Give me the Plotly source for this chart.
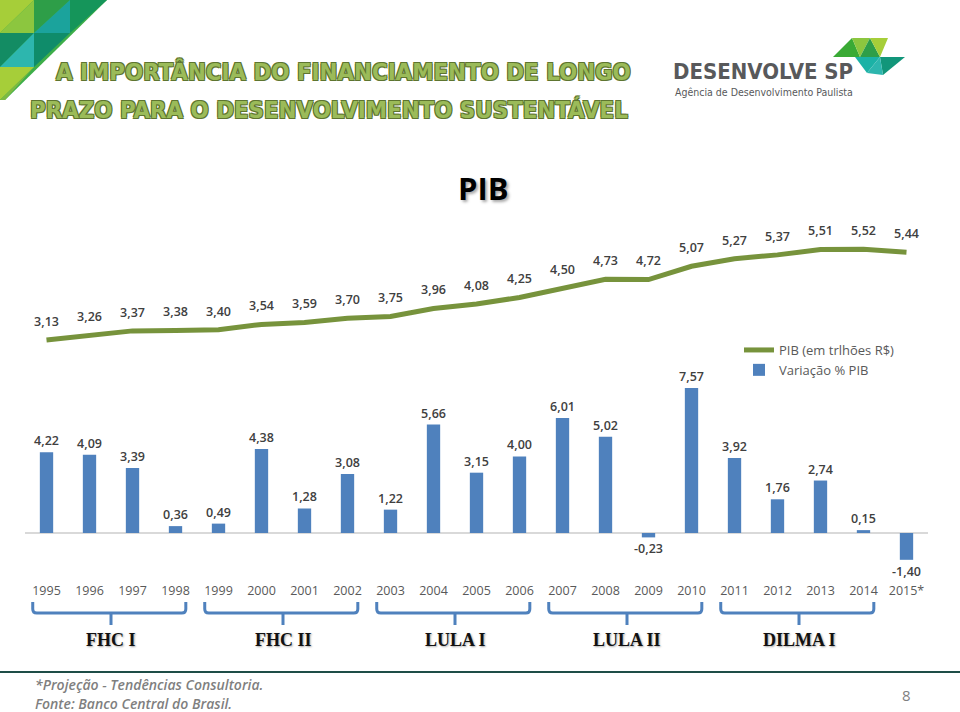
import plotly.graph_objects as go

# ---------------- data ----------------
years = ["1995", "1996", "1997", "1998", "1999", "2000", "2001", "2002", "2003", "2004",
         "2005", "2006", "2007", "2008", "2009", "2010", "2011", "2012", "2013", "2014", "2015*"]
pib_trilhoes = [3.13, 3.26, 3.37, 3.38, 3.40, 3.54, 3.59, 3.70, 3.75, 3.96,
                4.08, 4.25, 4.50, 4.73, 4.72, 5.07, 5.27, 5.37, 5.51, 5.52, 5.44]
variacao_pib = [4.22, 4.09, 3.39, 0.36, 0.49, 4.38, 1.28, 3.08, 1.22, 5.66,
                3.15, 4.00, 6.01, 5.02, -0.23, 7.57, 3.92, 1.76, 2.74, 0.15, -1.40]
periodos = ["FHC I", "FHC II", "LULA I", "LULA II", "DILMA I"]
periodo_inicio = ["1995", "1999", "2003", "2007", "2011"]
periodo_fim = ["1998", "2002", "2006", "2010", "2014"]

# ---------------- geometry helpers ----------------
W, H = 960, 712
PL, PR, PT, PB = 25, 928, 140, 578
n = len(years)


def px(x):
    return (x - PL) / (PR - PL)


def py(y):
    return (PB - y) / (PB - PT)


def cat_paper(i):
    return (i + 0.5) / n


GREEN_LINE = "#77933C"
BLUE = "#4F81BD"
LABEL_FONT = dict(family="Open Sans, sans-serif", size=12.5, color="#404040", weight=600)

fig = go.Figure()

fig.add_trace(go.Bar(
    x=years, y=variacao_pib, name="Variação % PIB",
    marker=dict(color=BLUE, line=dict(width=0)), width=0.31,
    texttemplate="%{y:.2f}", textposition="outside", textfont=LABEL_FONT,
    constraintext="none", cliponaxis=False, yaxis="y",
))
fig.add_trace(go.Scatter(
    x=years, y=pib_trilhoes, name="PIB (em trlhões R$)", yaxis="y2",
    mode="lines+markers+text",
    line=dict(color=GREEN_LINE, width=5),
    marker=dict(size=16, color="rgba(0,0,0,0)"),
    texttemplate="%{y:.2f}", textposition="top center", textfont=LABEL_FONT,
    cliponaxis=False,
))

shapes = []
annotations = []

# Brackets and period labels
for name, a, b in zip(periodos, periodo_inicio, periodo_fim):
    ia, ib = years.index(a), years.index(b)
    xl = cat_paper(ia - 0.32)
    xr = cat_paper(ib + 0.24)
    xm = (cat_paper(ia) + cat_paper(ib)) / 2
    yt, yh, yn = py(602), py(613), py(625)
    r = 4 / (PB - PT)
    rx = 4 / (PR - PL)
    path = (f"M {xl},{yt} L {xl},{yh + r} Q {xl},{yh} {xl + rx},{yh} "
            f"L {xr - rx},{yh} Q {xr},{yh} {xr},{yh + r} L {xr},{yt} "
            f"M {xm},{yh} L {xm},{yn}")
    shapes.append(dict(type="path", xref="paper", yref="paper", path=path,
                       line=dict(color=BLUE, width=3)))
    annotations.append(dict(xref="paper", yref="paper", x=xm, y=py(640), text=name,
                            showarrow=False, xanchor="center", yanchor="middle",
                            font=dict(family="Liberation Serif, DejaVu Serif, serif", size=18,
                                      color="#111111", weight=700,
                                      shadow="1px 1px 2px rgba(0,0,0,0.35)")))

# Footer line
shapes.append(dict(type="line", xref="paper", yref="paper", x0=px(0), x1=px(960),
                   y0=py(672), y1=py(672), line=dict(color="#1E4D47", width=2)))


def poly(points, color):
    d = "M " + " L ".join(f"{px(x)},{py(y)}" for x, y in points) + " Z"
    return dict(type="path", xref="paper", yref="paper", path=d,
                fillcolor=color, line=dict(width=0), layer="above")


# Top-left decorative triangles
shapes += [
    poly([(0, 0), (107, 0), (5, 100), (0, 100)], "#3DAE49"),
    poly([(0, 0), (34, 0), (0, 33)], "#A6CE39"),
    poly([(0, 33), (34, 0), (34, 33)], "#8CC63F"),
    poly([(34, 0), (70, 0), (34, 33)], "#2E9E48"),
    poly([(34, 33), (70, 0), (70, 33)], "#1BA39C"),
    poly([(70, 0), (107, 0), (70, 33)], "#15955A"),
    poly([(0, 33), (34, 33), (0, 67)], "#138C63"),
    poly([(0, 67), (34, 33), (34, 67)], "#2DB6AE"),
    poly([(34, 33), (70, 33), (34, 67)], "#0F8C6A"),
    poly([(0, 67), (34, 67), (0, 100)], "#A6CE39"),
    poly([(0, 100), (34, 67), (5, 100)], "#7DBA42"),
]

# Logo triangles (top right)
shapes += [
    poly([(833, 57), (852, 38), (860, 57)], "#3AAA35"),
    poly([(852, 38), (870, 38), (860, 57)], "#8CC63F"),
    poly([(870, 38), (860, 57), (880, 57)], "#2E9E48"),
    poly([(870, 38), (888, 38), (880, 57)], "#A6CE39"),
    poly([(855, 57), (880, 57), (867, 73)], "#1BB2A6"),
    poly([(880, 57), (905, 57), (883, 75)], "#12967A"),
    poly([(867, 73), (880, 57), (883, 75)], "#2DB6AE"),
]

# Header texts
header_font = dict(family="DejaVu Sans Condensed, DejaVu Sans, sans-serif", size=23.8,
                   color="#9BBB59", weight=700,
                   shadow="-1px -1px 0 #5E7530, 1px -1px 0 #5E7530, -1px 1px 0 #5E7530, 1px 1px 0 #5E7530")
cond_font = "DejaVu Sans Condensed, DejaVu Sans, sans-serif"
footer_font = dict(family="Open Sans, sans-serif", size=14, color="#7F7F7F", style="italic",
                   weight=600)
annotations += [
    dict(xref="paper", yref="paper", x=px(54), y=py(72), xanchor="left", yanchor="middle",
         text="A IMPORTÂNCIA DO FINANCIAMENTO DE LONGO", showarrow=False, font=header_font),
    dict(xref="paper", yref="paper", x=px(28), y=py(110), xanchor="left", yanchor="middle",
         text="PRAZO PARA O DESENVOLVIMENTO SUSTENTÁVEL", showarrow=False, font=header_font),
    dict(xref="paper", yref="paper", x=px(671), y=py(72), xanchor="left", yanchor="middle",
         text="DESENVOLVE SP", showarrow=False,
         font=dict(family=cond_font, size=22, color="#58595B", weight=700)),
    dict(xref="paper", yref="paper", x=px(673), y=py(92), xanchor="left", yanchor="middle",
         text="Agência de Desenvolvimento Paulista", showarrow=False,
         font=dict(family=cond_font, size=10.5, color="#58595B")),
    # Chart title
    dict(xref="paper", yref="paper", x=px(483), y=py(188), xanchor="center", yanchor="middle",
         text="PIB", showarrow=False,
         font=dict(family="Open Sans, sans-serif", size=31, color="#000000", weight=700,
                   shadow="2px 2px 3px rgba(0,0,0,0.35)")),
    # Footer
    dict(xref="paper", yref="paper", x=px(33), y=py(684), xanchor="left", yanchor="middle",
         text="*Projeção - Tendências Consultoria.", showarrow=False, font=footer_font),
    dict(xref="paper", yref="paper", x=px(33), y=py(703), xanchor="left", yanchor="middle",
         text="Fonte: Banco Central do Brasil.", showarrow=False, font=footer_font),
    dict(xref="paper", yref="paper", x=px(906), y=py(695), xanchor="center", yanchor="middle",
         text="8", showarrow=False,
         font=dict(family="Open Sans, sans-serif", size=15, color="#7F7F7F")),
]

# Axis ranges: bar axis zero at y=533 px, 19.15 px per unit; line axis 3.13 at 340 px, 38 px per unit
bar_scale, bar_zero = 19.15, 533
line_scale, line_ref_px, line_ref_val = 38.0, 340, pib_trilhoes[0]
y_range = [-(PB - bar_zero) / bar_scale, (bar_zero - PT) / bar_scale]
y2_range = [line_ref_val - (PB - line_ref_px) / line_scale,
            line_ref_val + (line_ref_px - PT) / line_scale]

fig.update_layout(
    width=W, height=H,
    margin=dict(l=PL, r=W - PR, t=PT, b=H - PB, pad=0),
    paper_bgcolor="white", plot_bgcolor="white",
    separators=", ",
    showlegend=True,
    legend=dict(x=px(739), y=py(335), xanchor="left", yanchor="top",
                traceorder="reversed", bgcolor="rgba(0,0,0,0)",
                font=dict(family="Open Sans, sans-serif", size=13, color="#595959"),
                itemclick=False, itemdoubleclick=False),
    xaxis=dict(type="category", range=[-0.5, n - 0.5], showgrid=False, showline=False,
               ticks="", zeroline=False, ticklabelstandoff=3,
               tickfont=dict(family="Open Sans, sans-serif", size=12.5, color="#595959")),
    yaxis=dict(range=y_range, showgrid=False, showticklabels=False, ticks="",
               zeroline=True, zerolinecolor="#D9D9D9", zerolinewidth=1.5, showline=False),
    yaxis2=dict(range=y2_range, overlaying="y", showgrid=False, showticklabels=False,
                ticks="", zeroline=False, showline=False),
    shapes=shapes,
    annotations=annotations,
    hovermode=False,
)

fig.write_html("out.html", config={"displayModeBar": False},
               post_script="document.body.style.margin='0';document.body.style.overflow='hidden';")
